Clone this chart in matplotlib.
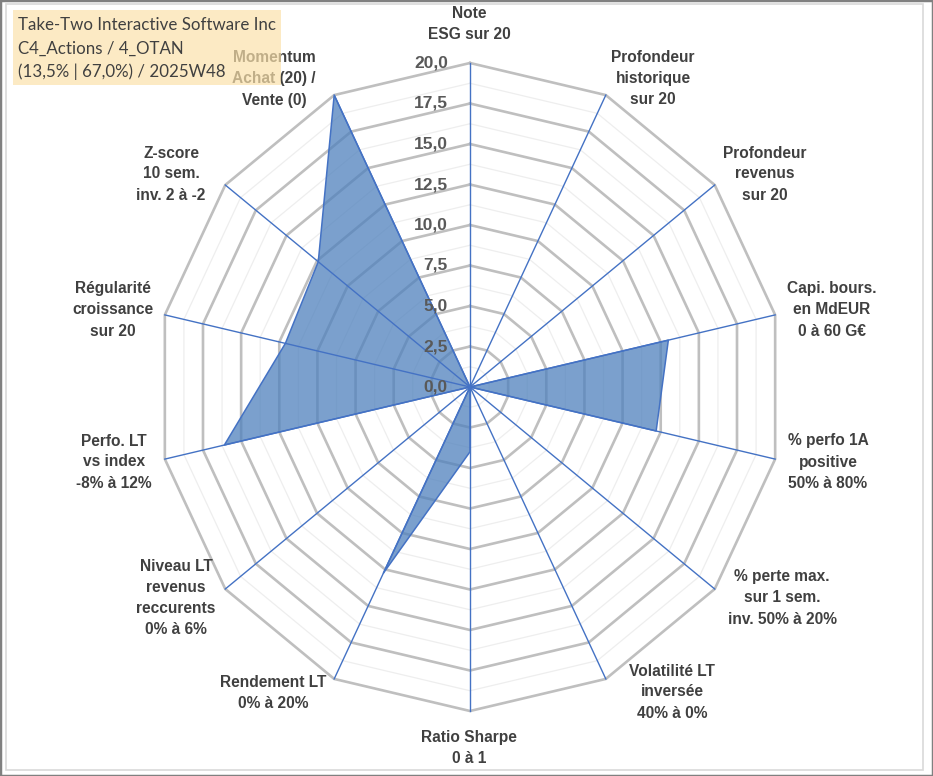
import matplotlib
matplotlib.use("Agg")
import matplotlib.pyplot as plt
import numpy as np
from matplotlib.patches import Rectangle

# axes of the radar, clockwise from the top
categories = [
    "Note\nESG sur 20",
    "Profondeur\nhistorique\nsur 20",
    "Profondeur\nrevenus\nsur 20",
    "Capi. bours.\nen MdEUR\n0 à 60 G€",
    "% perfo 1A\npositive\n50% à 80%",
    "% perte max.\nsur 1 sem.\ninv. 50% à 20%",
    "Volatilité LT\ninversée\n40% à 0%",
    "Ratio Sharpe\n0 à 1",
    "Rendement LT\n0% à 20%",
    "Niveau LT\nrevenus\nreccurents\n0% à 6%",
    "Perfo. LT\nvs index\n-8% à 12%",
    "Régularité\ncroissance\nsur 20",
    "Z-score\n10 sem.\ninv. 2 à -2",
    "Momentum\nAchat (20) /\nVente (0)",
]
scores = [0, 0, 0, 13.0, 12.2, 0, 0, 4.0, 12.75, 0, 16.1, 12.1, 12.4, 20.0]
major_levels = [2.5, 5, 7.5, 10, 12.5, 15, 17.5, 20]
tick_levels = [0, 2.5, 5, 7.5, 10, 12.5, 15, 17.5, 20]
title_lines = ["Take-Two Interactive Software Inc",
               "C4_Actions / 4_OTAN",
               "(13,5% | 67,0%) / 2025W48"]

# where each category label sits (pixel centres, layout only)
label_xy = [(469, 24), (653, 79), (765, 174), (832, 310), (828, 462),
            (782, 598), (672, 692), (469, 748), (273, 693), (176, 598),
            (114, 462), (113, 310), (171, 174), (274, 79)]

W, H = 933, 776
fig = plt.figure(figsize=(W / 100, H / 100), dpi=100)
fig.patch.set_facecolor("white")

def fx(x):
    return x / W

def fy(y):
    return 1 - y / H

# radar area (slightly wider than tall, like the original)
ax = fig.add_axes([fx(157), fy(711), 626 / W, 648 / H], projection="polar")
ax.set_aspect("auto")
ax.set_theta_zero_location("N")
ax.set_theta_direction(-1)
ax.set_ylim(0, 20)
ax.grid(False)
ax.set_xticks([])
ax.set_yticks([])
ax.spines["polar"].set_visible(False)
ax.patch.set_alpha(0)

n = len(categories)
angles = np.arange(n) * 2 * np.pi / n
closed = np.append(angles, angles[0])

# minor rings
for lvl in major_levels:
    ax.plot(closed, [lvl - 1.25] * (n + 1), color="#EEEEEE", lw=0.9,
            zorder=1, clip_on=False)
# major rings
for lvl in major_levels:
    ax.plot(closed, [lvl] * (n + 1), color="#BFBFBF", lw=1.9,
            zorder=2, clip_on=False, solid_joinstyle="miter")

# data polygon
vals = np.append(scores, scores[0])
ax.fill(closed, vals, color="#4F81BD", alpha=0.75, zorder=3, lw=0)
ax.plot(closed, vals, color="#4472C4", lw=1.1, zorder=5)

# spokes
for a in angles:
    ax.plot([a, a], [0, 20], color="#4472C4", lw=1.0, zorder=4, clip_on=False)

# radial tick labels
for lvl in tick_levels:
    ax.annotate(f"{lvl:.1f}".replace(".", ","), xy=(0, lvl),
                xytext=(-22, 0), textcoords="offset pixels",
                ha="right", va="center", fontsize=12.5, fontweight="bold",
                color="#595959", family="Liberation Sans", zorder=6,
                annotation_clip=False)

# category labels
for (lx, ly), lab in zip(label_xy, categories):
    fig.text(fx(lx), fy(ly), lab, ha="center", va="center", fontsize=11.2,
             fontweight="bold", color="#404040", family="Liberation Sans",
             linespacing=1.5, zorder=0.5)

# title box, drawn over the chart
fig.patches.append(Rectangle((fx(13), fy(85)), (281 - 13) / W, (85 - 10) / H,
                             transform=fig.transFigure, facecolor="#FBE1AA",
                             alpha=0.69, edgecolor="none", zorder=1))
for i, line in enumerate(title_lines):
    fig.text(fx(18), fy(25 + i * 23.5), line, ha="left", va="center",
             fontsize=12.2, color="#404040", family="Lato", zorder=3)

# frame
fig.patches.append(Rectangle((fx(6), fy(770)), (923 - 6) / W, (770 - 4) / H,
                             transform=fig.transFigure, facecolor="none",
                             edgecolor="#D9D9D9", lw=1.2, zorder=2))
fig.patches.append(Rectangle((0, 0), 1, 1, transform=fig.transFigure,
                             facecolor="none", edgecolor="#808080", lw=2.5,
                             zorder=2))

fig.savefig("out.png", dpi=100)
